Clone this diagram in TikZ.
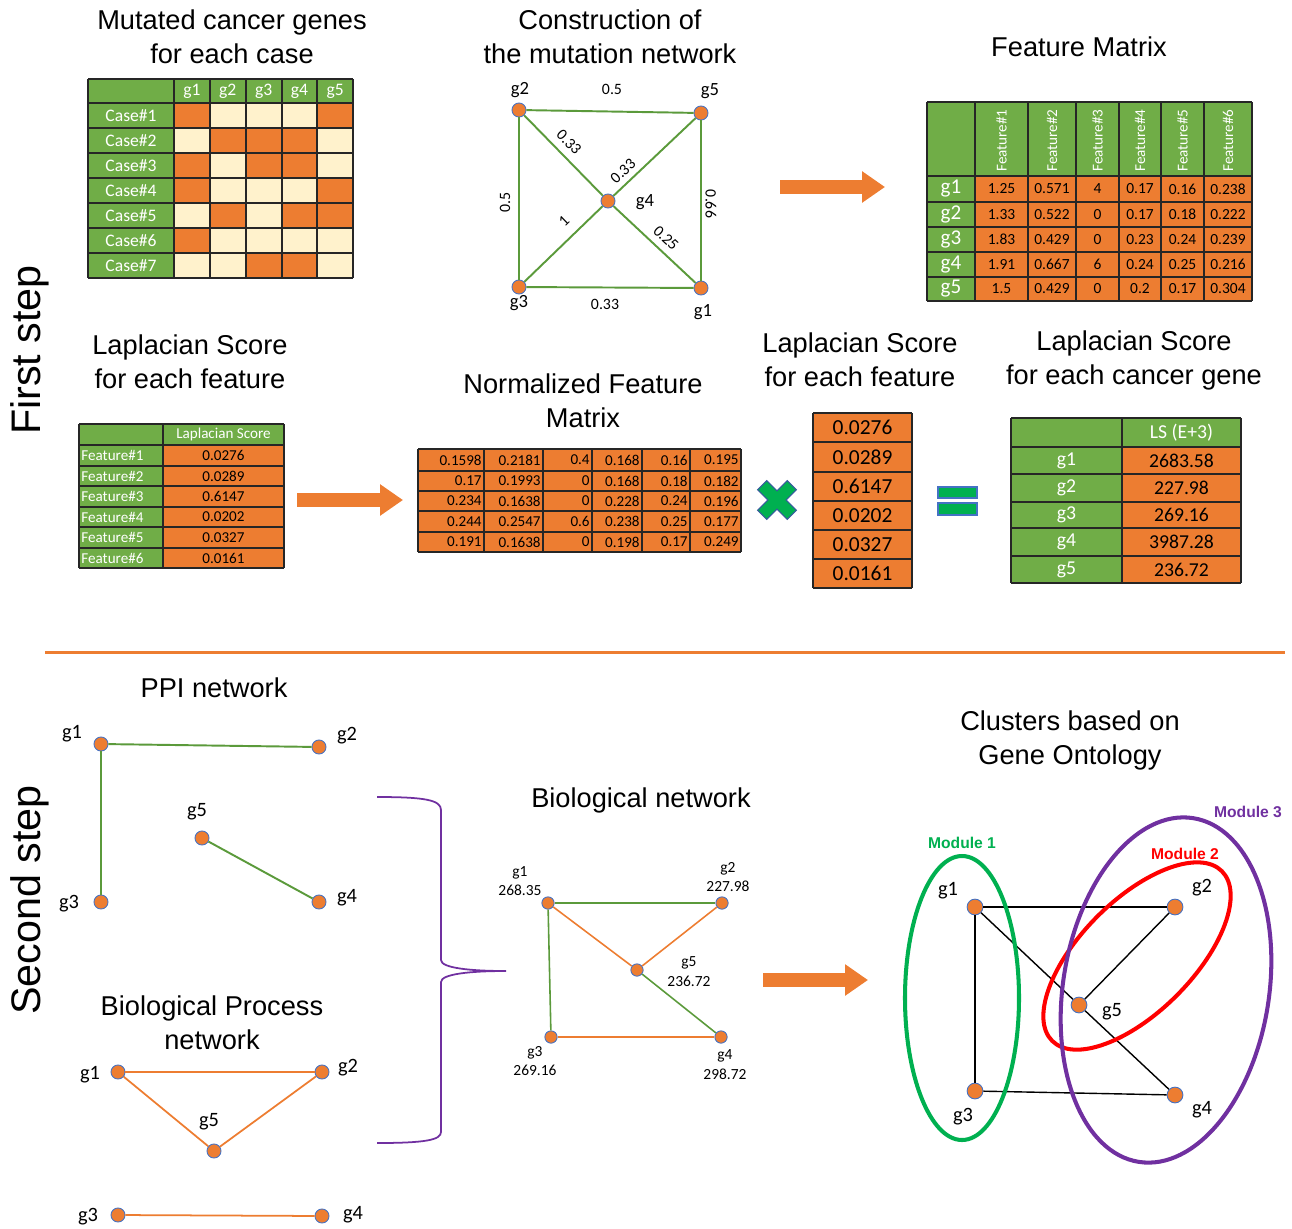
\documentclass[tikz,border=0pt]{standalone}
\usepackage{fontspec}
\setmainfont{Carlito}
\newfontfamily\arialfont{Liberation Sans}
\usetikzlibrary{arrows.meta}

\definecolor{cellgreen}{HTML}{70AD47}
\definecolor{cellorange}{HTML}{ED7D31}
\definecolor{cellcream}{HTML}{FFF2CC}
\definecolor{edgegreen}{HTML}{5B9A3B}
\definecolor{nodeblue}{HTML}{4472C4}
\definecolor{modgreen}{HTML}{00B050}
\definecolor{modred}{HTML}{FF0000}
\definecolor{modpurple}{HTML}{7030A0}

\tikzset{
  title/.style={font=\arialfont\fontsize{15.5}{19.3}\selectfont, align=center, inner sep=0pt},
  steplabel/.style={font=\arialfont\fontsize{23.5}{28}\selectfont, rotate=90, inner sep=0pt},
  gridline/.style={line width=0.8pt, draw=black!85},
  wtext/.style={text=white, font=\fontsize{10}{12}\selectfont, inner sep=0pt},
  stext/.style={font=\fontsize{8.6}{10}\selectfont, inner sep=0pt},
  fmtext/.style={font=\fontsize{8.8}{10}\selectfont, inner sep=0pt},
  fmhead/.style={text=white, font=\fontsize{8.6}{10}\selectfont, inner sep=0pt, rotate=90, anchor=west},
  fmgene/.style={text=white, font=\fontsize{12}{14}\selectfont, inner sep=0pt},
  bigtext/.style={font=\fontsize{12.2}{14}\selectfont, inner sep=0pt},
  lstext/.style={font=\fontsize{11.2}{13}\selectfont, inner sep=0pt},
  gene/.style={circle, fill=cellorange, draw=nodeblue, line width=0.5pt, minimum size=8pt, inner sep=0pt},
  glab/.style={font=\fontsize{10.6}{12}\selectfont, inner sep=0pt},
  wlab/.style={font=\fontsize{9}{10}\selectfont, inner sep=0pt},
  plab/.style={font=\fontsize{11.6}{13}\selectfont, inner sep=0pt},
  blab/.style={font=\fontsize{8.8}{11.3}\selectfont, align=center, inner sep=0pt},
  modlab/.style={font=\arialfont\bfseries\fontsize{8.9}{10}\selectfont, inner sep=0pt},
  gedge/.style={edgegreen, line width=1.1pt},
  oedge/.style={cellorange, line width=1pt},
  kedge/.style={black, line width=0.8pt},
  bigarrow/.style={cellorange, line width=8pt, -{Triangle[length=13pt,width=17pt]}},
  module/.style={line width=2.3pt}
}

\begin{document}
\begin{tikzpicture}[x=0.02cm, y=-0.02cm]
\useasboundingbox (0,0) rectangle (1292,1228);

% titles
\node[title] (t1) at (232,37) {Mutated cancer genes\\for each case};
\node[title] (t2) at (610,37) {Construction of\\the mutation network};
\node[title] (t3) at (1079,47) {Feature Matrix};
\node[title] (t4) at (190,362) {Laplacian Score\\ for each feature};
\node[title] (t5) at (583,401) {Normalized Feature\\Matrix};
\node[title] (t6) at (860,360) {Laplacian Score\\for each feature};
\node[title] (t7) at (1134,360) {Laplacian Score\\for each cancer gene};
\node[title] (t8) at (214,688) {PPI network};
\node[title] (t9) at (212,1023) {Biological Process\\network};
\node[title] (t10) at (641,800) {Biological network};
\node[title] (t11) at (1070,740) {Clusters based on\\Gene Ontology};
\node[steplabel] (s1) at (30,350) {First step};
\node[steplabel] (s2) at (30,900) {Second step};

% mutated genes table
\fill[cellgreen] (88,79) rectangle (353,103);
\fill[cellgreen] (88,103) rectangle (174,278);
\fill[cellcream] (174,103) rectangle (353,278);
\foreach \r/\c in {1/1,1/5,2/2,2/3,2/4,3/1,3/3,3/4,4/1,4/5,5/2,5/4,5/5,6/1,7/3,7/4}
  \fill[cellorange] ({174+35.8*(\c-1)},{103+25*(\r-1)}) rectangle ++(35.8,25);
\foreach \x in {88,174,210,246,282,317,353} \draw[gridline] (\x,79) -- (\x,278);
\foreach \y in {79,103,128,153,178,203,228,253,278} \draw[gridline] (88,\y) -- (353,\y);
\foreach \r in {1,...,7} \node[wtext] (case\r) at (131,{90.5+25*\r}) {Case\#\r};
\foreach \c in {1,...,5} \node[wtext] (col\c) at ({192+35.8*(\c-1)},91) {g\c};

% mutation network
\node[gene] (m1) at (701,288) {};
\node[gene] (m2) at (519,110) {};
\node[gene] (m3) at (519,287) {};
\node[gene] (m4) at (608,201) {};
\node[gene] (m5) at (701,113) {};
\draw[gedge] (m2) -- (m5);
\draw[gedge] (m5) -- (m1);
\draw[gedge] (m1) -- (m3);
\draw[gedge] (m3) -- (m2);
\draw[gedge] (m2) -- (m4);
\draw[gedge] (m4) -- (m1);
\draw[gedge] (m3) -- (m4);
\draw[gedge] (m4) -- (m5);
\node[glab] (m1l) at (703,312) {g1};
\node[glab] (m2l) at (520,90) {g2};
\node[glab] (m3l) at (519,303) {g3};
\node[glab] (m4l) at (645,202) {g4};
\node[glab] (m5l) at (710,91) {g5};
\node[wlab] (w25) at (612,89) {0.5};
\node[wlab, rotate=-46] (w24) at (569,142) {0.33};
\node[wlab, rotate=43] (w45) at (623,171) {0.33};
\node[wlab, rotate=90] (w23) at (505,202) {0.5};
\node[wlab, rotate=44] (w34) at (564,221) {1};
\node[wlab, rotate=-43] (w41) at (666,238) {0.25};
\node[wlab, rotate=-90] (w51) at (711,204) {0.66};
\node[wlab] (w31) at (605,304) {0.33};

\coordinate (a1s) at (780,187);
\coordinate (a1e) at (885,187);
\draw[bigarrow] (a1s) -- (a1e);

% feature matrix
\fill[cellgreen] (927,102) rectangle (1252,301);
\fill[cellorange] (975,176) rectangle (1252,301);
\foreach \x in {927,975,1028,1076,1119,1161,1204,1252} \draw[gridline] (\x,102) -- (\x,301);
\foreach \y in {102,176,202,227,252,277,301} \draw[gridline] (927,\y) -- (1252,\y);
\foreach \x [count=\i] in {1001.5,1052,1097.5,1140,1182.5,1228} \node[fmhead] (fh\i) at (\x,172) {Feature\#\i};
\foreach \i/\y in {1/189,2/214.5,3/239.5,4/264.5,5/289} \node[fmgene] (fg\i) at (951,\y) {g\i};
\foreach \v/\x [count=\j] in {1.25/1001.5,0.571/1052,4/1097.5,0.17/1140,0.16/1182.5,0.238/1228} \node[fmtext] (fa\j) at (\x,189) {\v};
\foreach \v/\x [count=\j] in {1.33/1001.5,0.522/1052,0/1097.5,0.17/1140,0.18/1182.5,0.222/1228} \node[fmtext] (fb\j) at (\x,214.5) {\v};
\foreach \v/\x [count=\j] in {1.83/1001.5,0.429/1052,0/1097.5,0.23/1140,0.24/1182.5,0.239/1228} \node[fmtext] (fc\j) at (\x,239.5) {\v};
\foreach \v/\x [count=\j] in {1.91/1001.5,0.667/1052,6/1097.5,0.24/1140,0.25/1182.5,0.216/1228} \node[fmtext] (fd\j) at (\x,264.5) {\v};
\foreach \v/\x [count=\j] in {1.5/1001.5,0.429/1052,0/1097.5,0.2/1140,0.17/1182.5,0.304/1228} \node[fmtext] (fe\j) at (\x,289) {\v};

% laplacian score per feature
\fill[cellgreen] (79,424) rectangle (284,568);
\fill[cellorange] (163,445) rectangle (284,568);
\foreach \x in {79,163,284} \draw[gridline] (\x,424) -- (\x,568);
\foreach \y in {424,445,466,486,507,527,548,568} \draw[gridline] (79,\y) -- (284,\y);
\node[stext, text=white] (lshead) at (223.5,434.5) {Laplacian Score};
\foreach \v/\y [count=\i] in {0.0276/455.5,0.0289/476,0.6147/496.5,0.0202/517,0.0327/537.5,0.0161/558} {
  \node[stext, text=white, anchor=west] (lsf\i) at (81,\y) {Feature\#\i};
  \node[stext] (lsv\i) at (223.5,\y) {\v};
}

\coordinate (a2s) at (297,500);
\coordinate (a2e) at (403,500);
\draw[bigarrow] (a2s) -- (a2e);

% normalized feature matrix
\fill[cellorange] (418,449) rectangle (741,552);
\foreach \x in {418,484,543,592,642,690,741} \draw[gridline] (\x,449) -- (\x,552);
\foreach \y in {449,471,491,511,532,552} \draw[gridline] (418,\y) -- (741,\y);
\foreach \v/\x [count=\j] in {0.1598/482,0.2181/541,0.4/590,0.168/640,0.16/688,0.195/739} \node[stext, anchor=east] (na\j) at (\x,460) {\v};
\foreach \v/\x [count=\j] in {0.17/482,0.1993/541,0/590,0.168/640,0.18/688,0.182/739} \node[stext, anchor=east] (nb\j) at (\x,481) {\v};
\foreach \v/\x [count=\j] in {0.234/482,0.1638/541,0/590,0.228/640,0.24/688,0.196/739} \node[stext, anchor=east] (nc\j) at (\x,501) {\v};
\foreach \v/\x [count=\j] in {0.244/482,0.2547/541,0.6/590,0.238/640,0.25/688,0.177/739} \node[stext, anchor=east] (nd\j) at (\x,521.5) {\v};
\foreach \v/\x [count=\j] in {0.191/482,0.1638/541,0/590,0.198/640,0.17/688,0.249/739} \node[stext, anchor=east] (ne\j) at (\x,542) {\v};

% times sign
\draw[fill=modgreen, draw=nodeblue!80!black, line width=0.6pt, shift={(777,500)}, rotate=45]
  (6.5,21) -- (6.5,6.5) -- (21,6.5) -- (21,-6.5) -- (6.5,-6.5) -- (6.5,-21) -- (-6.5,-21) -- (-6.5,-6.5)
  -- (-21,-6.5) -- (-21,6.5) -- (-6.5,6.5) -- (-6.5,21) -- cycle;

% score column
\fill[cellorange] (813,413) rectangle (912,588);
\draw[gridline] (813,413) -- (813,588);
\draw[gridline] (912,413) -- (912,588);
\foreach \y in {413,442,472,501,530,559,588} \draw[gridline] (813,\y) -- (912,\y);
\foreach \v/\y [count=\i] in {0.0276/427.5,0.0289/457,0.6147/486.5,0.0202/515.5,0.0327/544.5,0.0161/573.5}
  \node[bigtext] (sc\i) at (862.5,\y) {\v};

% equals sign
\draw[fill=modgreen, draw=nodeblue, line width=0.8pt] (938,487) rectangle (977,498);
\draw[fill=modgreen, draw=nodeblue, line width=0.8pt] (938,503) rectangle (977,515);

% laplacian score per gene
\fill[cellgreen] (1011,418) rectangle (1241,583);
\fill[cellorange] (1122,447) rectangle (1241,583);
\foreach \x in {1011,1122,1241} \draw[gridline] (\x,418) -- (\x,583);
\foreach \y in {418,447,474,502,528,556,583} \draw[gridline] (1011,\y) -- (1241,\y);
\node[lstext, text=white] (lshd) at (1181.5,432.5) {LS (E+3)};
\foreach \v/\y [count=\i] in {2683.58/460.5,227.98/488,269.16/515,3987.28/542,236.72/569.5} {
  \node[lstext, text=white] (lg\i) at (1066.5,\y) {g\i};
  \node[lstext] (lv\i) at (1181.5,\y) {\v};
}

% separator
\draw[cellorange, line width=1.7pt] (45,652) -- (1285,652);

% PPI network
\node[gene] (p1) at (101,744) {};
\node[gene] (p2) at (319,747) {};
\node[gene] (p3) at (101,902) {};
\node[gene] (p4) at (319,902) {};
\node[gene] (p5) at (202,838) {};
\draw[gedge] (p1) -- (p2);
\draw[gedge] (p1) -- (p3);
\draw[gedge] (p5) -- (p4);
\node[plab] (p1l) at (72,734) {g1};
\node[plab] (p2l) at (347,736) {g2};
\node[plab] (p3l) at (69,904) {g3};
\node[plab] (p4l) at (347,898) {g4};
\node[plab] (p5l) at (197,812) {g5};

% biological process network
\node[gene] (q1) at (118,1072) {};
\node[gene] (q2) at (322,1072) {};
\node[gene] (q3) at (118,1215) {};
\node[gene] (q4) at (322,1216) {};
\node[gene] (q5) at (214,1151) {};
\draw[oedge] (q1) -- (q2);
\draw[oedge] (q1) -- (q5);
\draw[oedge] (q5) -- (q2);
\draw[oedge] (q3) -- (q4);
\node[plab] (q1l) at (90,1075) {g1};
\node[plab] (q2l) at (348,1068) {g2};
\node[plab] (q3l) at (88,1217) {g3};
\node[plab] (q4l) at (353,1215) {g4};
\node[plab] (q5l) at (209,1122) {g5};

% brace
\draw[modpurple, line width=1pt] (377,797) .. controls (425,797) and (441,800) .. (441,810) -- (441,960)
  .. controls (441,968) and (470,971) .. (506,971) .. controls (470,971) and (441,974) .. (441,982)
  -- (441,1132) .. controls (441,1140) and (425,1143) .. (377,1143);

% biological network
\node[gene, minimum size=7pt] (b1) at (548,903) {};
\node[gene, minimum size=7pt] (b2) at (722,903) {};
\node[gene, minimum size=7pt] (b3) at (551,1037) {};
\node[gene, minimum size=7pt] (b4) at (721,1037) {};
\node[gene, minimum size=7pt] (b5) at (637,970) {};
\draw[gedge, line width=0.9pt] (b1) -- (b2);
\draw[gedge, line width=0.9pt] (b1) -- (b3);
\draw[oedge, line width=0.9pt] (b1) -- (b5);
\draw[oedge, line width=0.9pt] (b5) -- (b2);
\draw[gedge, line width=0.9pt] (b5) -- (b4);
\draw[oedge, line width=0.9pt] (b3) -- (b4);
\node[blab] (b1l) at (520,881) {g1\\268.35};
\node[blab] (b2l) at (728,877) {g2\\227.98};
\node[blab] (b3l) at (535,1061) {g3\\269.16};
\node[blab] (b4l) at (725,1065) {g4\\298.72};
\node[blab] (b5l) at (689,972) {g5\\236.72};

\coordinate (a3s) at (763,980);
\coordinate (a3e) at (868,980);
\draw[bigarrow] (a3s) -- (a3e);

% clusters
\node[gene, minimum size=9pt] (c1) at (975,907) {};
\node[gene, minimum size=9pt] (c2) at (1175,907) {};
\node[gene, minimum size=9pt] (c3) at (975,1091) {};
\node[gene, minimum size=9pt] (c4) at (1175,1095) {};
\node[gene, minimum size=9pt] (c5) at (1079,1005) {};
\draw[kedge] (c1) -- (c2);
\draw[kedge] (c1) -- (c3);
\draw[kedge] (c1) -- (c5);
\draw[kedge] (c5) -- (c2);
\draw[kedge] (c5) -- (c4);
\draw[kedge] (c3) -- (c4);
\node[plab] (c1l) at (948,891) {g1};
\node[plab] (c2l) at (1202,888) {g2};
\node[plab] (c3l) at (963,1117) {g3};
\node[plab] (c4l) at (1202,1110) {g4};
\node[plab] (c5l) at (1112,1012) {g5};
\draw[module, modgreen] (962,998) ellipse [x radius=57, y radius=142];
\draw[module, modred, rotate around={45:(1137,956)}] (1137,956) ellipse [x radius=120, y radius=56];
\draw[module, modpurple, rotate around={-9:(1166,990)}] (1166,990) ellipse [x radius=103, y radius=174];
\node[modlab, modgreen] (mod1) at (962,843) {Module 1};
\node[modlab, modred] (mod2) at (1185,854) {Module 2};
\node[modlab, modpurple] (mod3) at (1248,812) {Module 3};

\end{tikzpicture}
\end{document}
